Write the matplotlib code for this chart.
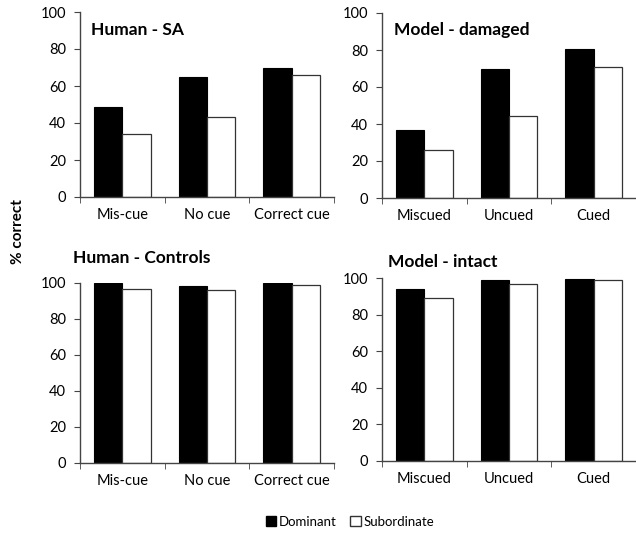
import matplotlib.pyplot as plt
import numpy as np
from matplotlib.patches import Patch

plt.rcParams['font.family'] = ['Lato', 'DejaVu Sans']

human_cats = ['Mis-cue', 'No cue', 'Correct cue']
model_cats = ['Miscued', 'Uncued', 'Cued']

sa_dom = [48.5, 65.0, 69.8]
sa_sub = [33.8, 43.4, 66.2]
damaged_dom = [36.9, 69.5, 80.6]
damaged_sub = [26.1, 44.5, 70.6]
controls_dom = [99.8, 98.5, 99.8]
controls_sub = [96.4, 96.1, 98.9]
intact_dom = [94.2, 98.9, 99.5]
intact_sub = [89.0, 96.9, 98.7]

W, H = 636, 538
fig = plt.figure(figsize=(W / 100, H / 100), dpi=100)


def panel(box, cats, dom, sub, title, tx, ty):
    l, t, r, b = box
    ax = fig.add_axes([l / W, 1 - b / H, (r - l) / W, (b - t) / H])
    x = np.arange(len(cats))
    bw = 0.335
    ax.bar(x - bw / 2, dom, bw, color='black', edgecolor='black', linewidth=0.8)
    ax.bar(x + bw / 2, sub, bw, color='white', edgecolor='#333333', linewidth=0.9)
    ax.set_xlim(-0.5, len(cats) - 0.5)
    ax.set_ylim(0, 100)
    ax.set_yticks([0, 20, 40, 60, 80, 100])
    ax.set_xticks(x)
    ax.set_xticklabels(cats, fontsize=10.5)
    ax.set_xticks(np.arange(len(cats) + 1) - 0.5, minor=True)
    ax.tick_params(axis='x', which='major', length=0, pad=8)
    ax.tick_params(axis='x', which='minor', length=4, direction='out', color='#444444')
    ax.tick_params(axis='y', length=4, direction='out', labelsize=10.5, color='#444444', pad=6)
    for s in ['top', 'right']:
        ax.spines[s].set_visible(False)
    for s in ['left', 'bottom']:
        ax.spines[s].set_color('#444444')
        ax.spines[s].set_linewidth(1.0)
    fig.text(tx / W, 1 - ty / H, title, fontsize=12.5, fontweight='bold', va='center', ha='left')
    return ax


panel((80, 12, 334, 197), human_cats, sa_dom, sa_sub, 'Human - SA', 91, 30)
panel((382, 13, 636, 198), model_cats, damaged_dom, damaged_sub, 'Model - damaged', 394, 30)
panel((80, 283, 334, 463), human_cats, controls_dom, controls_sub, 'Human - Controls', 73, 258)
panel((382, 278, 636, 461), model_cats, intact_dom, intact_sub, 'Model - intact', 388, 262)

fig.text(18 / W, 1 - 232 / H, '% correct', rotation=90, fontsize=11, fontweight='bold',
         va='center', ha='center')

handles = [Patch(facecolor='black', edgecolor='black', label='Dominant'),
           Patch(facecolor='white', edgecolor='#333333', label='Subordinate')]
fig.legend(handles=handles, loc='center', bbox_to_anchor=(350 / W, 1 - 522 / H), ncol=2,
           frameon=False, fontsize=9.5, handlelength=0.8, handleheight=0.8,
           handletextpad=0.2, columnspacing=1.0)

fig.savefig('out.png', dpi=100)
